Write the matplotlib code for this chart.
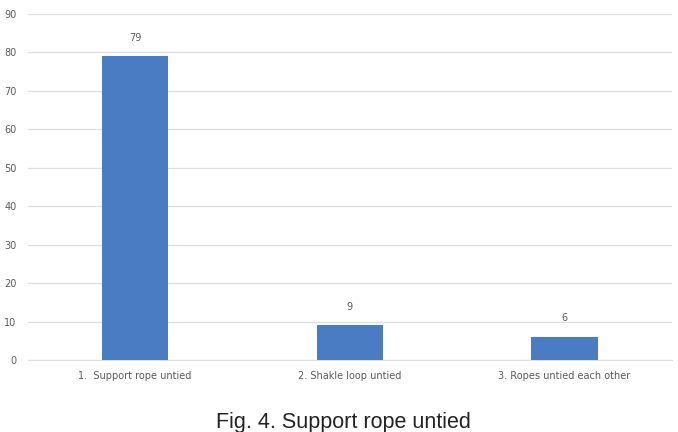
import matplotlib
matplotlib.use("Agg")
import matplotlib.pyplot as plt
import numpy as np

categories = ["1.  Support rope untied", "2. Shakle loop untied", "3. Ropes untied each other"]
counts = [79, 9, 6]
yticks = [0, 10, 20, 30, 40, 50, 60, 70, 80, 90]
caption = "Fig. 4. Support rope untied"

bar_color = "#4a7cc3"
text_gray = "#595959"

fig = plt.figure(figsize=(6.78, 4.32), dpi=100)
ax = fig.add_axes([0.041, 0.1667, 0.950, 0.801])

x = np.arange(len(categories))
bars = ax.bar(x, counts, width=0.31, color=bar_color, zorder=3)

for b, v in zip(bars, counts):
    ax.text(b.get_x() + b.get_width() / 2, v + 3.5, str(v),
            ha="center", va="bottom", fontsize=7, color=text_gray)

ax.set_xlim(-0.5, len(categories) - 0.5)
ax.set_ylim(0, 90)
ax.set_yticks(yticks)
ax.set_yticklabels([str(t) for t in yticks], fontsize=7, color=text_gray)
ax.set_xticks(x)
ax.set_xticklabels(categories, fontsize=7, color=text_gray)

ax.yaxis.grid(True, color="#dedede", linewidth=0.9, zorder=0)
ax.tick_params(axis="both", length=0, pad=8)
for side in ["top", "right", "left"]:
    ax.spines[side].set_visible(False)
ax.spines["bottom"].set_color("#dedede")

fig.text(0.506, 0.010, caption, ha="center", va="baseline",
         fontsize=15.5, family="Liberation Sans", color="#222222")

fig.savefig("out.png", dpi=100)
